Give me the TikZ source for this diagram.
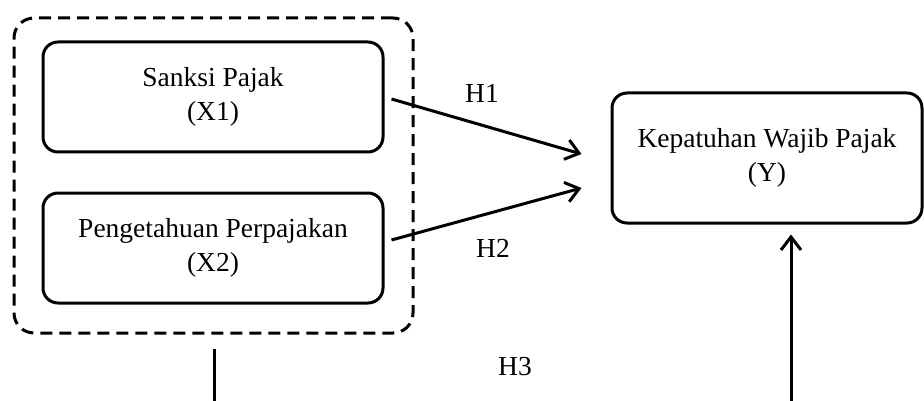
\documentclass[tikz,border=0pt]{standalone}
\usepackage{fontspec}
\setmainfont{Liberation Serif}
\usetikzlibrary{arrows.meta,calc}
\begin{document}
\begin{tikzpicture}[x=1pt,y=-1pt,
  varbox/.style={draw,line width=3pt,rounded corners=15pt,align=center,
    inner sep=0pt,font=\fontsize{27.5}{34}\selectfont},
  groupbox/.style={draw,line width=3pt,dash pattern=on 12pt off 7pt,
    rounded corners=20pt,inner sep=0pt},
  link/.style={line width=3pt,-{Straight Barb[length=13pt,width=20pt,line width=3pt]}},
  plainline/.style={line width=3pt},
  hlabel/.style={font=\fontsize{27.5}{34}\selectfont,inner sep=0pt}]
\useasboundingbox (0,0) rectangle (924,401);

% predictor variables and their grouping frame
\node[groupbox,minimum width=399pt,minimum height=315pt] (group) at (213.5,175.5) {};
\node[varbox,minimum width=340pt,minimum height=110pt] (X1) at (213,97) {Sanksi Pajak\\(X1)};
\node[varbox,minimum width=340pt,minimum height=110pt] (X2) at (213,248) {Pengetahuan Perpajakan\\(X2)};

% dependent variable
\node[varbox,minimum width=310pt,minimum height=130pt] (Y) at (767,158) {Kepatuhan Wajib Pajak\\(Y)};

% connector end points
\coordinate (h1s) at ($(X1.east)+(7,2)$);
\coordinate (h1e) at ($(Y.west)+(-29,-4)$);
\coordinate (h2s) at ($(X2.east)+(7,-8)$);
\coordinate (h2e) at ($(Y.west)+(-29,30)$);
\coordinate (h3a) at ($(group.south)+(0.5,14)$);
\coordinate (h3b) at ($(group.south)+(0.5,68)$);
\coordinate (h3c) at ($(Y.south)+(24,178)$);
\coordinate (h3d) at ($(Y.south)+(24,10)$);

% hypothesis paths
\draw[link] (h1s) -- (h1e);
\draw[link] (h2s) -- (h2e);
\draw[plainline] (h3a) -- (h3b);
\draw[link] (h3c) -- (h3d);

% hypothesis labels
\node[hlabel] (H1) at (482,93) {H1};
\node[hlabel] (H2) at (493,248) {H2};
\node[hlabel] (H3) at (515,367) {H3};
\end{tikzpicture}
\end{document}
